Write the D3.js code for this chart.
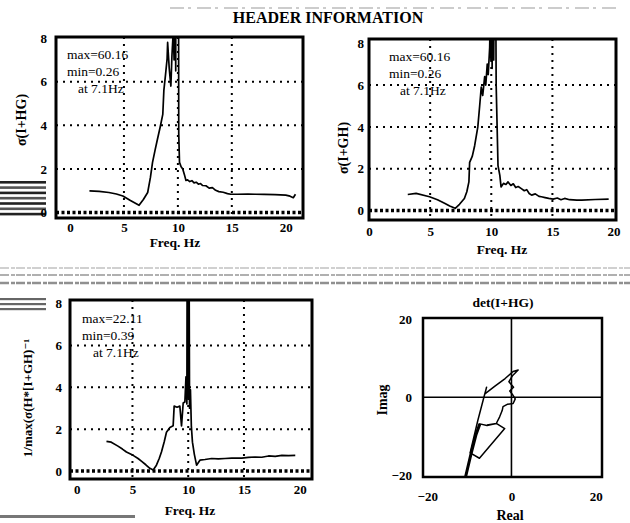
<!DOCTYPE html>
<html>
<head>
<meta charset="utf-8">
<script src="https://cdn.jsdelivr.net/npm/d3@7"></script>
<style>
  body { margin: 0; background: #fff; }
  svg { display: block; }
</style>
</head>
<body>
<svg id="chart" width="630" height="523"></svg>
<script>
const SERIF = '"Liberation Serif", "DejaVu Serif", serif';

// tick labels / grid values
const freqTicks = [0, 5, 10, 15, 20];
const freqGrid = [5, 10, 15];
const sigmaTicks = [0, 2, 4, 6, 8];
const sigmaGrid = [2, 4, 6];
const nyqTicks = [-20, 0, 20];

// sigma(I+HG) vs frequency
const hgFreq = [1.8, 2.7, 3.6, 4.3, 4.9, 5.6, 6.4, 6.8, 7.2, 7.45, 7.65, 7.9, 8.1, 8.35, 8.6, 8.7, 8.85, 9.0, 9.05, 9.2,
    9.35, 9.45, 9.57, 9.65, 9.72, 9.8, 9.88, 9.95, 10.02, 10.08, 10.15, 10.3, 10.45, 10.6, 10.75, 10.9, 11.1, 11.3, 11.5, 11.7,
    11.9, 12.1, 12.3, 12.6, 12.9, 13.2, 13.5, 13.8, 14.2, 14.6, 14.9, 15.5, 16.5, 17.2, 18.0, 19.0, 20.0, 20.4, 20.7, 20.9];
const hgSigma = [0.99, 0.97, 0.92, 0.85, 0.76, 0.55, 0.33, 0.6, 0.92, 1.6, 2.3, 2.9, 3.35, 3.9, 4.5, 5.6, 6.3, 7.05, 7.8, 6.6,
    5.8, 7.2, 8.3, 7.0, 14, 6.5, 60.16, 9, 25, 3.6, 2.3, 2.1, 2.0, 1.75, 1.47, 1.5, 1.42, 1.46, 1.36, 1.39,
    1.3, 1.33, 1.24, 1.23, 1.12, 1.14, 1.02, 0.96, 0.93, 0.87, 0.84, 0.84, 0.85, 0.84, 0.83, 0.82, 0.8, 0.75, 0.68, 0.84];

// sigma(I+GH) vs frequency
const ghFreq = [3.17, 3.85, 4.95, 5.6, 6.18, 6.6, 7.05, 7.4, 7.8, 8.0, 8.17, 8.23, 8.45, 8.64, 8.9, 9.05, 9.18, 9.3, 9.46, 9.55,
    9.67, 9.75, 9.87, 9.92, 9.97, 10.02, 10.07, 10.12, 10.2, 10.3, 10.4, 10.55, 10.7, 10.8, 11.0, 11.2, 11.37, 11.6, 11.8, 12.0,
    12.2, 12.46, 12.7, 12.9, 13.1, 13.3, 13.6, 13.9, 14.1, 14.4, 14.7, 15.06, 15.4, 15.7, 16.0, 16.4, 17.0, 17.4, 18.5, 19.6];
const ghSigma = [0.77, 0.82, 0.66, 0.52, 0.35, 0.22, 0.11, 0.3, 0.58, 0.9, 1.37, 2.3, 2.6, 3.1, 4.0, 5.0, 5.9, 5.5, 6.4, 6.0,
    7.0, 6.5, 7.8, 9.5, 7.2, 14, 6.8, 60.16, 7.2, 18, 6.0, 2.15, 1.68, 1.13, 1.3, 1.25, 1.37, 1.2, 1.28, 1.1,
    1.15, 1.05, 0.95, 1.0, 0.82, 0.74, 0.8, 0.68, 0.66, 0.62, 0.58, 0.55, 0.6, 0.52, 0.58, 0.52, 0.5, 0.5, 0.53, 0.55];

// 1/max(sigma(...)) vs frequency
const invFreq = [2.67, 3.1, 3.7, 4.1, 4.46, 5.06, 5.5, 5.8, 6.2, 6.56, 6.86, 7.15, 7.4, 7.6, 7.85, 8.05, 8.36, 8.65, 8.74, 9.0,
    9.25, 9.4, 9.55, 9.7, 9.8, 9.88, 9.95, 10.0, 10.05, 10.12, 10.2, 10.28, 10.38, 10.55, 10.75, 11.05, 11.5, 12.1, 12.7, 13.3,
    13.9, 14.8, 15.4, 16.0, 16.6, 17.2, 17.8, 18.4, 19.0, 19.6];
const invSigma = [1.42, 1.38, 1.19, 1.05, 0.91, 0.75, 0.6, 0.47, 0.3, 0.13, 0.05, 0.28, 0.6, 0.91, 1.4, 1.85, 2.08, 2.16, 3.1, 3.05,
    3.1, 2.16, 3.25, 3.3, 4.5, 3.2, 22.11, 3.5, 15, 3.0, 3.88, 2.16, 1.38, 0.8, 0.28, 0.52, 0.55, 0.6, 0.58, 0.6,
    0.62, 0.62, 0.65, 0.67, 0.66, 0.72, 0.7, 0.75, 0.74, 0.75];

// det(I+HG) locus
const nyqReal = [-12.5, -10.9, -9.6, -8.4, -7.5, -5.8, -3.6, -1.6, -7.6, -9.8, -8.0, -6.4, -5.9, -6.3, -4.0, -1.5, 0.4, 1.6, 0.3, -0.6,
    0.5, -0.4, 0.2, 0.9, 0.4, -1.0, -2.0, -2.2, -2.8, -3.6, -5.8];
const nyqImag = [-27, -20.4, -14.5, -9.5, -6.8, -7.2, -6.7, -8.0, -15.6, -14.2, -6.0, 0.6, 2.6, 0.9, 2.8, 4.8, 6.6, 7.0, 5.6, 4.0,
    2.6, 1.6, 0.8, -0.4, -1.6, -1.8, -2.4, -3.4, -5.0, -6.7, -7.1];

const note1 = ['max=60.16', 'min=0.26', 'at 7.1Hz'];
const note2 = ['max=60.16', 'min=0.26', 'at 7.1Hz'];
const note3 = ['max=22.11', 'min=0.39', 'at 7.1Hz'];

const svg = d3.select('#chart');

// scanner noise from the original print
const noise = svg.append('g');
[[268, '#d0d0d0', 2], [275, '#b0b0b0', 2], [283, '#909090', 2.5]].forEach(([yy, c, w]) => {
    noise.append('line').attr('x1', 0).attr('x2', 630).attr('y1', yy).attr('y2', yy)
        .attr('stroke', c).attr('stroke-width', w).attr('stroke-dasharray', '9,2,4,1');
});
for (let i = 0; i < 7; i++) {
    noise.append('rect').attr('x', 0).attr('y', 181 + i * 5.3).attr('width', 46).attr('height', 2.6)
        .attr('fill', i % 2 ? '#555' : '#222');
}
for (let i = 0; i < 3; i++) {
    noise.append('rect').attr('x', 0).attr('y', 298 + i * 5).attr('width', 46).attr('height', 2.2).attr('fill', '#666');
}
noise.append('rect').attr('x', 0).attr('y', 515).attr('width', 135).attr('height', 3).attr('fill', '#777');
noise.append('line').attr('x1', 170).attr('x2', 620).attr('y1', 8).attr('y2', 8)
    .attr('stroke', '#999').attr('stroke-dasharray', '14,4,3,6');

svg.append('text')
    .attr('x', 328).attr('y', 23)
    .attr('text-anchor', 'middle')
    .style('font-family', SERIF).style('font-size', '16px').style('font-weight', 'bold')
    .text('HEADER INFORMATION');

function freqPanel(opt) {
    const x = d3.scaleLinear().domain(opt.xDomain).range([opt.left, opt.right]);
    const y = d3.scaleLinear().domain(opt.yDomain).range([opt.bottom, opt.top]);
    const g = svg.append('g');
    const clipId = 'clip-' + opt.id;

    g.append('clipPath').attr('id', clipId).append('rect')
        .attr('x', opt.left).attr('y', opt.top)
        .attr('width', opt.right - opt.left).attr('height', opt.bottom - opt.top);

    g.selectAll('.vgrid').data(freqGrid).enter().append('line')
        .attr('x1', d => x(d)).attr('x2', d => x(d))
        .attr('y1', opt.top).attr('y2', opt.bottom)
        .attr('stroke', '#000').attr('stroke-width', 2).attr('stroke-dasharray', '2,5');

    g.selectAll('.hgrid').data(sigmaGrid).enter().append('line')
        .attr('x1', opt.left).attr('x2', opt.right)
        .attr('y1', d => y(d)).attr('y2', d => y(d))
        .attr('stroke', '#000').attr('stroke-width', 2).attr('stroke-dasharray', '2,5');

    g.append('line')
        .attr('x1', opt.left).attr('x2', opt.right)
        .attr('y1', y(0)).attr('y2', y(0))
        .attr('stroke', '#000').attr('stroke-width', 3.5).attr('stroke-dasharray', '3,2.5');

    const pts = opt.freq.map((f, i) => [f, opt.vals[i]]);
    g.append('path')
        .datum(pts)
        .attr('clip-path', `url(#${clipId})`)
        .attr('fill', 'none')
        .attr('stroke', '#000')
        .attr('stroke-width', 1.7)
        .attr('stroke-linejoin', 'round')
        .attr('d', d3.line().x(d => x(d[0])).y(d => y(d[1])));

    g.append('rect')
        .attr('x', opt.left).attr('y', opt.top)
        .attr('width', opt.right - opt.left).attr('height', opt.bottom - opt.top)
        .attr('fill', 'none').attr('stroke', '#000').attr('stroke-width', 3);

    const yAx = g.append('g')
        .attr('transform', `translate(${opt.left},0)`)
        .call(d3.axisLeft(y).tickValues(sigmaTicks).tickSize(0).tickPadding(opt.yPad).tickFormat(d3.format('d')));
    const xAx = g.append('g')
        .attr('transform', `translate(0,${opt.bottom})`)
        .call(d3.axisBottom(x).tickValues(freqTicks).tickSize(0).tickPadding(opt.xPad).tickFormat(d3.format('d')));
    [yAx, xAx].forEach(a => {
        a.select('.domain').remove();
        a.attr('font-family', SERIF).attr('font-size', 13).attr('font-weight', 'bold');
    });

    g.append('text')
        .attr('x', opt.xlab[0]).attr('y', opt.xlab[1])
        .attr('text-anchor', 'middle')
        .style('font-family', SERIF).style('font-size', '13.5px').style('font-weight', 'bold')
        .text('Freq. Hz');

    g.append('text')
        .attr('transform', `translate(${opt.ylab[0]},${opt.ylab[1]}) rotate(-90)`)
        .attr('text-anchor', 'middle')
        .style('font-family', SERIF).style('font-size', opt.ylabSize || '14px').style('font-weight', 'bold')
        .text(opt.ylabel);

    const note = g.append('text')
        .style('font-family', SERIF).style('font-size', '13.5px');
    opt.note.forEach((t, i) => {
        note.append('tspan')
            .attr('x', opt.noteX + (i === 2 ? 11 : 0))
            .attr('y', opt.noteY + i * 17)
            .text(t);
    });
}

freqPanel({
    id: 'hg', left: 56, right: 303, top: 37, bottom: 218,
    xDomain: [-1.3, 21.6], yDomain: [-0.25, 8.05],
    freq: hgFreq, vals: hgSigma, note: note1, noteX: 67, noteY: 59,
    yPad: 9, xPad: 5, xlab: [175, 247], ylab: [26, 120], ylabel: 'σ(I+HG)'
});

freqPanel({
    id: 'gh', left: 369, right: 616, top: 39, bottom: 220,
    xDomain: [0, 20.2], yDomain: [-0.45, 8.2],
    freq: ghFreq, vals: ghSigma, note: note2, noteX: 389, noteY: 61,
    yPad: 5, xPad: 7, xlab: [502, 254], ylab: [348, 148], ylabel: 'σ(I+GH)'
});

freqPanel({
    id: 'inv', left: 70, right: 312, top: 300, bottom: 479,
    xDomain: [-0.6, 21.1], yDomain: [-0.38, 8.17],
    freq: invFreq, vals: invSigma, note: note3, noteX: 82, noteY: 323,
    yPad: 8, xPad: 6, xlab: [190, 515], ylab: [32, 398], ylabel: '1/max(σ(H*[I+GH)⁻¹', ylabSize: '13px'
});

// det(I+HG) panel
(function () {
    const left = 423, right = 602, top = 318, bottom = 477;
    const x = d3.scaleLinear().domain([-21, 21.5]).range([left, right]);
    const y = d3.scaleLinear().domain([-20.4, 20.3]).range([bottom, top]);
    const g = svg.append('g');

    g.append('clipPath').attr('id', 'clip-nyq').append('rect')
        .attr('x', left).attr('y', top).attr('width', right - left).attr('height', bottom - top);

    g.append('line').attr('x1', x(0)).attr('x2', x(0)).attr('y1', top).attr('y2', bottom)
        .attr('stroke', '#000').attr('stroke-width', 1.6);
    g.append('line').attr('x1', left).attr('x2', right).attr('y1', y(0)).attr('y2', y(0))
        .attr('stroke', '#000').attr('stroke-width', 1.6);

    const pts = nyqReal.map((r, i) => [r, nyqImag[i]]);
    g.append('path')
        .datum(pts)
        .attr('clip-path', 'url(#clip-nyq)')
        .attr('fill', 'none').attr('stroke', '#000').attr('stroke-width', 1.5)
        .attr('stroke-linejoin', 'round')
        .attr('d', d3.line().x(d => x(d[0])).y(d => y(d[1])));
    // heavier lower branch
    g.append('path')
        .datum(pts.slice(0, 5))
        .attr('clip-path', 'url(#clip-nyq)')
        .attr('fill', 'none').attr('stroke', '#000').attr('stroke-width', 3)
        .attr('d', d3.line().x(d => x(d[0])).y(d => y(d[1])));

    g.append('rect')
        .attr('x', left).attr('y', top).attr('width', right - left).attr('height', bottom - top)
        .attr('fill', 'none').attr('stroke', '#000').attr('stroke-width', 2.5);

    const yAx = g.append('g').attr('transform', `translate(${left},0)`)
        .call(d3.axisLeft(y).tickValues(nyqTicks).tickSize(0).tickPadding(11));
    const xAx = g.append('g').attr('transform', `translate(0,${bottom})`)
        .call(d3.axisBottom(x).tickValues(nyqTicks).tickSize(0).tickPadding(15));
    [yAx, xAx].forEach(a => {
        a.select('.domain').remove();
        a.attr('font-family', SERIF).attr('font-size', 13).attr('font-weight', 'bold');
    });

    g.append('text').attr('x', 503).attr('y', 307).attr('text-anchor', 'middle')
        .style('font-family', SERIF).style('font-size', '13.5px').style('font-weight', 'bold')
        .text('det(I+HG)');
    g.append('text').attr('x', 510).attr('y', 520).attr('text-anchor', 'middle')
        .style('font-family', SERIF).style('font-size', '14px').style('font-weight', 'bold')
        .text('Real');
    g.append('text').attr('transform', 'translate(387,400) rotate(-90)').attr('text-anchor', 'middle')
        .style('font-family', SERIF).style('font-size', '14px').style('font-weight', 'bold')
        .text('Imag');
})();
</script>
</body>
</html>
